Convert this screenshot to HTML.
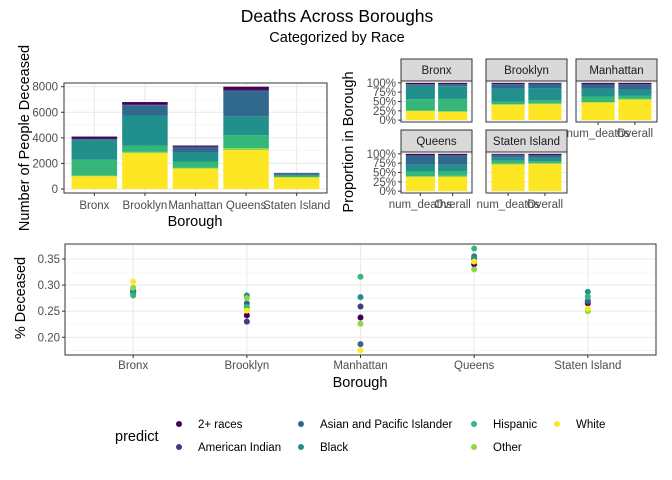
<!DOCTYPE html>
<html><head><meta charset="utf-8"><style>
html,body{margin:0;padding:0;background:#fff;}
svg{display:block;font-family:"Liberation Sans",sans-serif;}
</style></head><body>
<svg id="chart" width="672" height="480" viewBox="0 0 672 480" xmlns="http://www.w3.org/2000/svg">
<text x="337" y="22" text-anchor="middle" font-size="17.5" fill="#000">Deaths Across Boroughs</text>
<text x="337" y="42" text-anchor="middle" font-size="14.5" fill="#000">Categorized by Race</text>
<g id="g1"></g>
<g id="g2"></g>
<g id="g3"></g>
<g id="g4"></g>
</svg>
<script>
const boroughs = ["Bronx","Brooklyn","Manhattan","Queens","Staten Island"];
const races = ["2+ races","American Indian","Asian and Pacific Islander","Black","Hispanic","Other","White"];
const raceColors = ["#440154","#443A83","#31688E","#21908C","#35B779","#8FD744","#FDE725"];
// deaths per borough, per race (order as races)
const deathsBronx = [150,50,100,1500,1250,50,1000];
const deathsBrooklyn = [200,50,800,2350,500,100,2800];
const deathsManhattan = [100,50,400,700,500,50,1600];
const deathsQueens = [250,100,1950,1500,1000,150,3050];
const deathsStaten = [30,20,80,100,100,30,900];
// overall population share (%)
const overallBronx = [3,1,5,34,33,2,22];
const overallBrooklyn = [2,1,11,33,8,2,43];
const overallManhattan = [4,1,13,17,8,2,55];
const overallQueens = [3,1,25,18,12,3,38];
const overallStaten = [3,1,6,10,5,2,73];
// % deceased per borough per race
const pctBronx = [0.287,0.288,0.290,0.285,0.280,0.295,0.307];
const pctBrooklyn = [0.242,0.230,0.265,0.280,0.258,0.275,0.251];
const pctManhattan = [0.238,0.259,0.187,0.277,0.316,0.226,0.175];
const pctQueens = [0.340,0.350,0.355,0.352,0.370,0.330,0.345];
const pctStaten = [0.265,0.268,0.270,0.287,0.278,0.250,0.255];
const deathTicks = [0,2000,4000,6000,8000];
const propTicks = [0,0.25,0.5,0.75,1];
const propTickLabels = ["0%","25%","50%","75%","100%"];
const pctTicks = [0.20,0.25,0.30,0.35];
const pctTickLabels = ["0.20","0.25","0.30","0.35"];

const deaths=[deathsBronx,deathsBrooklyn,deathsManhattan,deathsQueens,deathsStaten];
const overall=[overallBronx,overallBrooklyn,overallManhattan,overallQueens,overallStaten];
const pcts=[pctBronx,pctBrooklyn,pctManhattan,pctQueens,pctStaten];
const NS="http://www.w3.org/2000/svg";
function mk(p,tag,at,txt){const e=document.createElementNS(NS,tag);for(const k in at)e.setAttribute(k,at[k]);if(txt!=null)e.textContent=txt;p.appendChild(e);return e;}

// ---- Chart 1
(function(){
const g=document.getElementById('g1');
const L=64,R=327,T=83,B=193;
const y=v=>189-(v/8000)*(189-86.7);
const bw=(R-L)/5.2, x=i=>L+bw*(0.6+i);
let r=mk(g,'rect',{x:L,y:T,width:R-L,height:B-T,fill:'#fff'});

for(let k=0;k<deathTicks.length-1;k++){let m=(deathTicks[k]+deathTicks[k+1])/2;mk(g,'line',{x1:L,x2:R,y1:y(m),y2:y(m),stroke:'#f0f0f0','stroke-width':0.6});}
deathTicks.forEach(t=>{mk(g,'line',{x1:L,x2:R,y1:y(t),y2:y(t),stroke:'#ebebeb','stroke-width':1.1});
 let tx=mk(g,'text',{x:L-6,y:y(t)+4,'text-anchor':'end','font-size':11.5,fill:'#4d4d4d'},t);
 
 mk(g,'line',{x1:L-3,x2:L,y1:y(t),y2:y(t),stroke:'#333'});});
boroughs.forEach((b,i)=>{mk(g,'line',{x1:x(i),x2:x(i),y1:T,y2:B,stroke:'#ebebeb','stroke-width':1.1});});
boroughs.forEach((b,i)=>{let cum=0;
 for(let j=races.length-1;j>=0;j--){const v=deaths[i][j];
  const rr=mk(g,'rect',{x:x(i)-bw*0.45,y:y(cum+v),width:bw*0.9,height:y(cum)-y(cum+v),fill:raceColors[j]});
  cum+=v;}
 mk(g,'line',{x1:x(i),x2:x(i),y1:B,y2:B+3,stroke:'#333'});
 let tx=mk(g,'text',{x:x(i),y:B+16,'text-anchor':'middle','font-size':11.5,fill:'#4d4d4d'},b);
 });
mk(g,'rect',{x:L,y:T,width:R-L,height:B-T,fill:'none',stroke:'#333','stroke-width':1});
let t1=mk(g,'text',{x:195,y:226,'text-anchor':'middle','font-size':14.5,fill:'#000'},'Borough');

let t2=mk(g,'text',{x:0,y:0,'text-anchor':'middle','font-size':14.5,fill:'#000',transform:'translate(29,138) rotate(-90)'},'Number of People Deceased');

})();

// ---- Chart 2 facets
(function(){
const g=document.getElementById('g2');
const panels=[[401,59,472],[486,59,567],[576,59,657],[401,130,472],[486,130,567]];
panels.forEach((p,i)=>{
 const [L,ST,R]=p, T=ST+22, B=T+41;
 const y=v=>B-((v+0.05)/1.1)*(B-T);
 const s=mk(g,'rect',{x:L,y:ST,width:R-L,height:22,fill:'#d9d9d9',stroke:'#333','stroke-width':1});
 
 mk(g,'text',{x:(L+R)/2,y:ST+15,'text-anchor':'middle','font-size':11.5,fill:'#1a1a1a'},boroughs[i]);
 mk(g,'rect',{x:L,y:T,width:R-L,height:B-T,fill:'#fff'});
 propTicks.forEach(t=>mk(g,'line',{x1:L,x2:R,y1:y(t),y2:y(t),stroke:'#ebebeb','stroke-width':1}));
 const bw=(R-L)/2.2, x=k=>L+bw*(0.6+k);
 const tot=deaths[i].reduce((a,c)=>a+c,0), tot2=overall[i].reduce((a,c)=>a+c,0);
 [deaths[i].map(v=>v/tot),overall[i].map(v=>v/tot2)].forEach((arr,k)=>{let cum=0;
  for(let j=races.length-1;j>=0;j--){const v=arr[j];
   const rr=mk(g,'rect',{x:x(k)-bw*0.45,y:y(cum+v),width:bw*0.9,height:y(cum)-y(cum+v),fill:raceColors[j]});
   cum+=v;}});
 mk(g,'rect',{x:L,y:T,width:R-L,height:B-T,fill:'none',stroke:'#333','stroke-width':1});
 if(L===401){propTicks.forEach((t,k)=>{mk(g,'line',{x1:L-3,x2:L,y1:y(t),y2:y(t),stroke:'#333'});
  const tx=mk(g,'text',{x:L-5,y:y(t)+4,'text-anchor':'end','font-size':11.5,fill:'#4d4d4d'},propTickLabels[k]);
  });}
 if(i>=2){["num_deaths","Overall"].forEach((lb,k)=>{mk(g,'line',{x1:x(k),x2:x(k),y1:B,y2:B+3,stroke:'#333'});
  const tx=mk(g,'text',{x:x(k),y:B+15,'text-anchor':'middle','font-size':11.5,fill:'#4d4d4d'},lb);
  });}
});
let t=mk(g,'text',{x:0,y:0,'text-anchor':'middle','font-size':14.5,fill:'#000',transform:'translate(353,142) rotate(-90)'},'Proportion in Borough');

})();

// ---- Chart 3
(function(){
const g=document.getElementById('g3');
const L=65,R=656,T=244,B=355;
const y=v=>337.3-(v-0.20)/0.05*26.1;
const s=(R-L)/5.2, x=i=>L+s*(0.6+i);
for(let k=0;k<pctTicks.length;k++){const m=pctTicks[k]-0.025;mk(g,'line',{x1:L,x2:R,y1:y(m),y2:y(m),stroke:'#f0f0f0','stroke-width':0.6});}
mk(g,'line',{x1:L,x2:R,y1:y(0.375),y2:y(0.375),stroke:'#f0f0f0','stroke-width':0.6});
pctTicks.forEach((t,k)=>{mk(g,'line',{x1:L,x2:R,y1:y(t),y2:y(t),stroke:'#ebebeb','stroke-width':1.1});
 mk(g,'line',{x1:L-3,x2:L,y1:y(t),y2:y(t),stroke:'#333'});
 const tx=mk(g,'text',{x:L-5,y:y(t)+4,'text-anchor':'end','font-size':11.5,fill:'#4d4d4d'},pctTickLabels[k]);
 });
boroughs.forEach((b,i)=>{mk(g,'line',{x1:x(i),x2:x(i),y1:T,y2:B,stroke:'#ebebeb','stroke-width':1.1});
 mk(g,'line',{x1:x(i),x2:x(i),y1:B,y2:B+3,stroke:'#333'});
 const tx=mk(g,'text',{x:x(i),y:B+14,'text-anchor':'middle','font-size':11.5,fill:'#4d4d4d'},b);
 });
boroughs.forEach((b,i)=>{pcts[i].forEach((v,j)=>{
 const c=mk(g,'circle',{cx:x(i),cy:y(v),r:3,fill:raceColors[j]});
 });});
mk(g,'rect',{x:L,y:T,width:R-L,height:B-T,fill:'none',stroke:'#333','stroke-width':1});
let t1=mk(g,'text',{x:360,y:387,'text-anchor':'middle','font-size':14.5,fill:'#000'},'Borough');

let t2=mk(g,'text',{x:0,y:0,'text-anchor':'middle','font-size':14.5,fill:'#000',transform:'translate(25,298) rotate(-90)'},'% Deceased');

})();

// ---- Legend
(function(){
const g=document.getElementById('g4');
let t=mk(g,'text',{x:115,y:441,'font-size':14.5,fill:'#000'},'predict');

const pos=[[179,424],[179,447],[301,424],[301,447],[474,424],[474,447],[557,424]];
races.forEach((r,j)=>{const [cx,cy]=pos[j];
 const e=mk(g,'g',{});
 
 mk(e,'circle',{cx:cx,cy:cy,r:3,fill:raceColors[j]});
 mk(e,'text',{x:cx+19,y:cy+4,'font-size':11.5,fill:'#000'},r);});
})();
</script>
</body></html>
